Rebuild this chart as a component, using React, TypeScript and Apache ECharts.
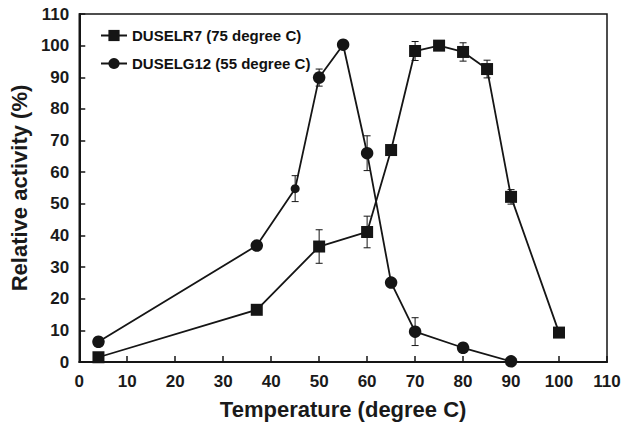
import React, { useEffect, useRef } from "react";
import * as echarts from "echarts";

const sqX = [4, 37, 50, 60, 65, 70, 75, 80, 85, 90, 100];
const sqY = [1.5, 16.5, 36.5, 41.1, 67, 98.3, 100, 98, 92.6, 52.2, 9.3];
const sqErr = [0, 0, 5.3, 5, 0, 3, 0, 2.9, 2.8, 2.3, 0];

const ciX = [4, 37, 45, 50, 55, 60, 65, 70, 80, 90];
const ciY = [6.4, 36.8, 54.8, 89.9, 100.3, 66, 25.1, 9.6, 4.5, 0.2];
const ciErr = [0, 0, 4.1, 2.7, 0, 5.5, 0, 4.4, 0, 0];

const xTicks = [0, 10, 20, 30, 40, 50, 60, 70, 80, 90, 100, 110];
const yTicks = [0, 10, 20, 30, 40, 50, 60, 70, 80, 90, 100, 110];

const nameSq = "DUSELR7 (75 degree C)";
const nameCi = "DUSELG12 (55 degree C)";

const FONT = "'Liberation Sans', Arial, Helvetica, sans-serif";
const INK = "#151515";

function errData(xs: number[], ys: number[], es: number[]) {
  const out: number[][] = [];
  xs.forEach((x, i) => {
    if (es[i] > 0) out.push([x, ys[i] - es[i], ys[i] + es[i]]);
  });
  return out;
}

const renderErr = (params: any, api: any) => {
  const x = api.value(0);
  const lo = api.coord([x, api.value(1)]);
  const hi = api.coord([x, api.value(2)]);
  const hw = 3.5;
  const style = { stroke: INK, lineWidth: 1 };
  return {
    type: "group",
    children: [
      { type: "line", shape: { x1: lo[0], y1: lo[1], x2: hi[0], y2: hi[1] }, style },
      { type: "line", shape: { x1: lo[0] - hw, y1: lo[1], x2: lo[0] + hw, y2: lo[1] }, style },
      { type: "line", shape: { x1: hi[0] - hw, y1: hi[1], x2: hi[0] + hw, y2: hi[1] }, style },
    ],
  };
};

export default function App() {
  const ref = useRef<HTMLDivElement>(null);
  useEffect(() => {
    if (!ref.current) return;
    const chart = echarts.init(ref.current, undefined, { renderer: "svg" });
    const axisCommon = {
      type: "value" as const,
      min: 0,
      max: 110,
      interval: 10,
      splitLine: { show: false },
      axisLine: { show: true, lineStyle: { color: INK, width: 2 } },
      axisTick: { show: true, inside: true, length: 6, lineStyle: { color: INK, width: 1.5 } },
      axisLabel: {
        color: "#1a1a1a",
        fontFamily: FONT,
        fontWeight: "bold" as const,
        fontSize: 17,
      },
      nameLocation: "middle" as const,
      nameTextStyle: { color: "#1a1a1a", fontFamily: FONT, fontWeight: "bold" as const, fontSize: 22 },
    };
    chart.setOption({
      animation: false,
      backgroundColor: "#ffffff",
      grid: {
        left: 79,
        right: 25,
        top: 14,
        bottom: 63,
        show: true,
        borderColor: INK,
        borderWidth: 1.5,
        backgroundColor: "transparent",
      },
      legend: {
        data: [nameSq, nameCi],
        orient: "vertical",
        left: 100,
        top: 28,
        padding: 0,
        itemWidth: 26,
        itemHeight: 14,
        itemGap: 13,
        textStyle: { color: "#111", fontFamily: FONT, fontWeight: "bold", fontSize: 15 },
      },
      xAxis: {
        ...axisCommon,
        name: "Temperature (degree C)",
        nameGap: 36,
        axisLabel: {
          ...axisCommon.axisLabel,
          margin: 11,
          formatter: (v: number) => (xTicks.includes(v) ? String(v) : ""),
        },
      },
      yAxis: {
        ...axisCommon,
        name: "Relative activity (%)",
        nameGap: 35,
        axisLabel: {
          ...axisCommon.axisLabel,
          margin: 10,
          formatter: (v: number) => (yTicks.includes(v) ? String(v) : ""),
        },
      },
      series: [
        {
          type: "custom",
          name: "errSq",
          renderItem: renderErr,
          data: errData(sqX, sqY, sqErr),
          z: 1,
          silent: true,
        },
        {
          type: "custom",
          name: "errCi",
          renderItem: renderErr,
          data: errData(ciX, ciY, ciErr),
          z: 1,
          silent: true,
        },
        {
          type: "line",
          name: nameSq,
          data: sqX.map((x, i) => [x, sqY[i]]),
          symbol: "rect",
          symbolSize: 12,
          lineStyle: { color: INK, width: 1.8 },
          itemStyle: { color: INK, borderWidth: 0 },
          z: 3,
        },
        {
          type: "line",
          name: nameCi,
          data: ciX.map((x, i) => ({ value: [x, ciY[i]], symbolSize: x === 45 ? 9 : 12.5 })),
          symbol: "circle",
          symbolSize: 12.5,
          lineStyle: { color: INK, width: 1.8 },
          itemStyle: { color: INK, borderWidth: 0 },
          z: 3,
        },
      ],
    });
    return () => chart.dispose();
  }, []);
  return (
    <div
      ref={ref}
      style={{ position: "fixed", left: 0, top: 0, width: 632, height: 425 }}
    />
  );
}
